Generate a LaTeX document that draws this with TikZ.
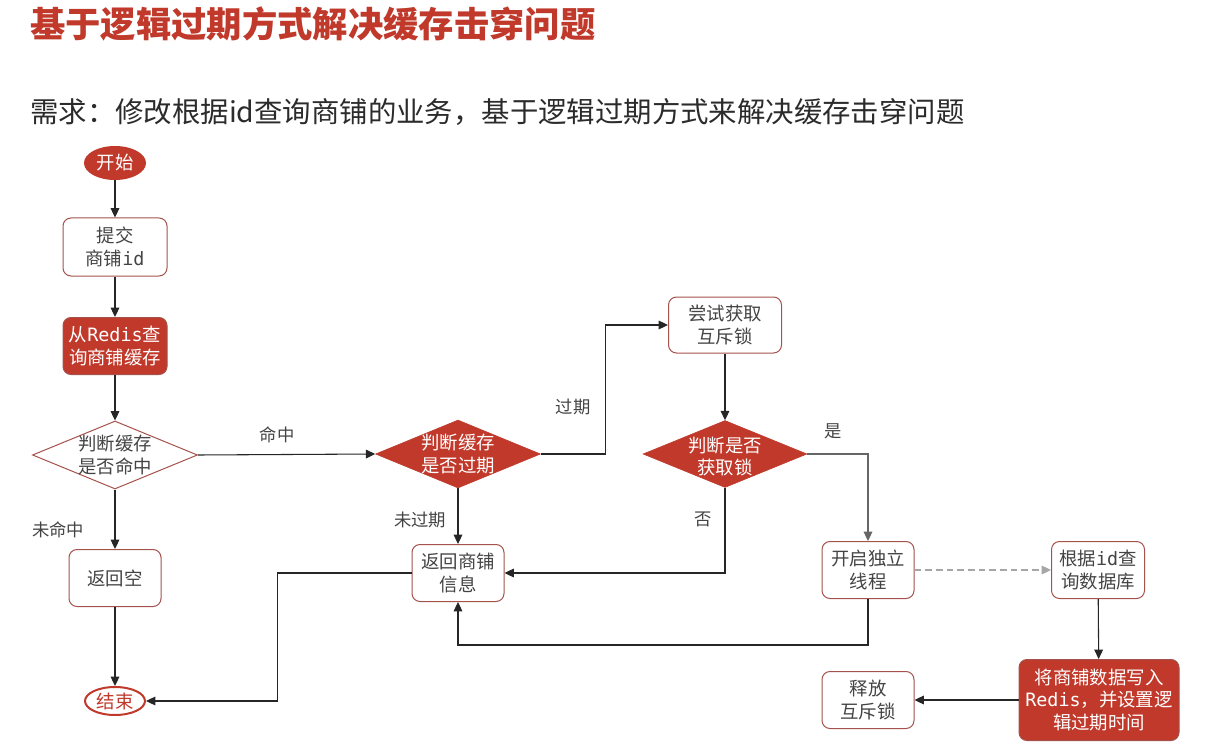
\documentclass[tikz,border=0pt]{standalone}
\usepackage{fontspec}
\setmainfont{Noto Sans CJK SC}
\newfontfamily\mono{DejaVu Sans Mono}
\usetikzlibrary{shapes.geometric,arrows.meta}
\definecolor{myred}{HTML}{C0392B}
\definecolor{bord}{HTML}{A5524C}
\definecolor{txt}{HTML}{444444}
\definecolor{ln}{HTML}{262626}
\definecolor{subt}{HTML}{2B2B2B}
\begin{document}
\begin{tikzpicture}[x=0.75pt,y=-0.75pt,
  every node/.style={inner sep=0pt, font=\fontsize{13.8}{17}\selectfont, align=center},
  sz/.style 2 args={minimum width=#1*0.75pt, minimum height=#2*0.75pt},
  wbox/.style={draw=bord, line width=0.75pt, fill=white, rounded corners=6pt, text=txt},
  rbox/.style={draw=bord, line width=0.75pt, fill=myred, rounded corners=6pt, text=white},
  wdia/.style={diamond, draw=bord, line width=0.75pt, fill=white},
  rdia/.style={diamond, draw=myred, fill=myred},
  flow/.style={draw=ln, line width=0.8pt, -{Triangle[length=7pt,width=6.5pt]}},
  lab/.style={text=txt, font=\fontsize{13}{16}\selectfont}
]
\useasboundingbox (0,0) rectangle (1214,756);
\fill[white] (0,0) rectangle (1214,756);

% titles
\node[anchor=west, text=myred, font=\fontsize{26.5}{30}\selectfont\bfseries] (title) at (30,24) {基于逻辑过期方式解决缓存击穿问题};
\node[anchor=west, text=subt, font=\fontsize{21.3}{25}\selectfont] (sub) at (30,112) {需求：修改根据id查询商铺的业务，基于逻辑过期方式来解决缓存击穿问题};

% nodes
\node[ellipse, fill=myred, text=white, sz={62}{34}] (start) at (115,163) {开始};
\node[wbox, sz={104}{58}] (submit) at (115,247) {提交\\商铺{\mono id}};
\node[rbox, sz={104}{57}] (query) at (115,346) {从{\mono Redis}查\\询商铺缓存};
\node[wdia, sz={165}{68}] (hit) at (115,455) {};
\node[text=txt] (hitt) at (hit.center) {判断缓存\\是否命中};
\node[wbox, sz={92}{57}] (empty) at (115,578) {返回空};
\node[ellipse, draw=myred, line width=1.5pt, fill=white, text=myred, sz={60}{28}] (end) at (115,701) {结束};

\node[rdia, sz={165}{68}] (exp) at (458,454) {};
\node[text=white] (expt) at (exp.center) {判断缓存\\是否过期};
\node[wbox, sz={92}{57}] (ret) at (458,573) {返回商铺\\信息};
\node[wbox, sz={113}{56}] (try) at (725,325) {尝试获取\\互斥锁};
\node[rdia, sz={164}{67}] (lock) at (725,454) {};
\node[text=white] (lockt) at ([yshift=-2]lock.center) {判断是否\\获取锁};
\node[wbox, sz={92}{57}] (thread) at (868,570) {开启独立\\线程};
\node[wbox, sz={93}{57}] (db) at (1098,570) {根据{\mono id}查\\询数据库};
\node[rbox, sz={160}{81}] (write) at (1099,700) {将商铺数据写入\\{\mono Redis}，并设置逻\\辑过期时间};
\node[wbox, sz={92}{57}] (unlock) at (868,700) {释放\\互斥锁};

% connectors
\draw[flow] (start) -- (submit);
\draw[flow] (submit) -- (query);
\draw[flow] (query) -- (hit);
\draw[flow] (hit.east) -- (exp.west);
\draw[flow] (hit.south) -- (empty.north);
\draw[flow] (empty) -- (end);
\draw[flow] (ret.west) -- ++(-134,0) |- (end.east);
\draw[flow] (exp.east) -- ++(65,0) |- (try.west);
\draw[flow] (exp.south) -- (ret.north);
\draw[flow] (try) -- (lock);
\draw[flow] (lock.south) |- (ret.east);
\draw[flow, draw=gray!80!black] (lock.east) -| (thread.north);
\draw[draw=gray!70, line width=0.8pt, dash pattern=on 5pt off 3pt, -{Triangle[length=7pt,width=6.5pt,fill=gray!70]}] (thread.east) -- (db.west);
\draw[flow] (thread.south) -- ++(0,46) -| (ret.south);
\draw[flow] (db) -- (write);
\draw[flow] (write.west) -- (unlock.east);

% labels
\node[lab] (l1) at (277,435) {命中};
\node[lab] (l2) at (58,530) {未命中};
\node[lab] (l3) at (573,407) {过期};
\node[lab] (l4) at (420,520) {未过期};
\node[lab] (l5) at (703,519) {否};
\node[lab] (l6) at (833,431) {是};
\end{tikzpicture}
\end{document}
